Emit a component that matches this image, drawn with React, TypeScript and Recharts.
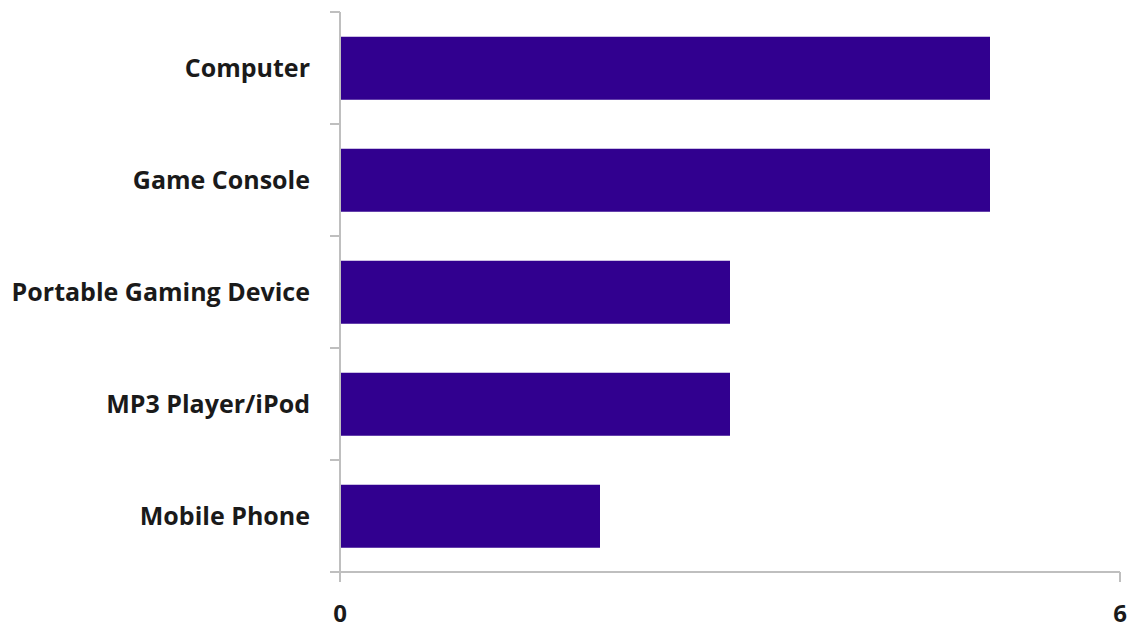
import React from 'react';
import { BarChart, Bar, XAxis, YAxis } from 'recharts';

const categories = ['Computer', 'Game Console', 'Portable Gaming Device', 'MP3 Player/iPod', 'Mobile Phone'];
const counts = [5, 5, 3, 3, 2];
const xTicks = [0, 6];

const data = categories.map((name, i) => ({ name, value: counts[i] }));

const AXIS = '#bfbfbf';
const FONT = '"Open Sans", Lato, sans-serif';

// category label plus the small marks that sit between the bands
const CategoryTick = (props: any) => {
  const { x, y, payload, index, visibleTicksCount } = props;
  const half = payload.offset || 0;
  const ax = x + 30; // axis line (tickSize + tickMargin)
  return (
    <g>
      <line x1={ax} x2={ax - 10} y1={y - half} y2={y - half} stroke={AXIS} strokeWidth={2} />
      {index === visibleTicksCount - 1 && (
        <line x1={ax} x2={ax - 10} y1={y + half} y2={y + half} stroke={AXIS} strokeWidth={2} />
      )}
      <text x={x} y={y} dy="0.355em" textAnchor="end" fill="#1a1a1a" fontSize={25} fontWeight={700} fontFamily={FONT}>
        {payload.value}
      </text>
    </g>
  );
};

export default function App() {
  return (
    <div style={{ position: 'absolute', left: 0, top: 0, background: '#fff' }}>
      <BarChart
        width={1138}
        height={630}
        data={data}
        layout="vertical"
        margin={{ top: 12, right: 18, bottom: 0, left: 0 }}
        barCategoryGap="22%"
      >
        <YAxis
          type="category"
          dataKey="name"
          width={340}
          tickLine={false}
          axisLine={{ stroke: AXIS, strokeWidth: 2 }}
          tickSize={10}
          tickMargin={20}
          tick={<CategoryTick />}
          interval={0}
        />
        <XAxis
          type="number"
          domain={[0, 6]}
          ticks={xTicks}
          height={58}
          tickSize={10}
          tickMargin={23}
          tickLine={{ stroke: AXIS, strokeWidth: 2 }}
          axisLine={{ stroke: AXIS, strokeWidth: 2 }}
          tick={{ fill: '#1a1a1a', fontSize: 24, fontWeight: 700, fontFamily: FONT }}
        />
        <Bar dataKey="value" fill="#31008f" isAnimationActive={false} />
      </BarChart>
    </div>
  );
}
